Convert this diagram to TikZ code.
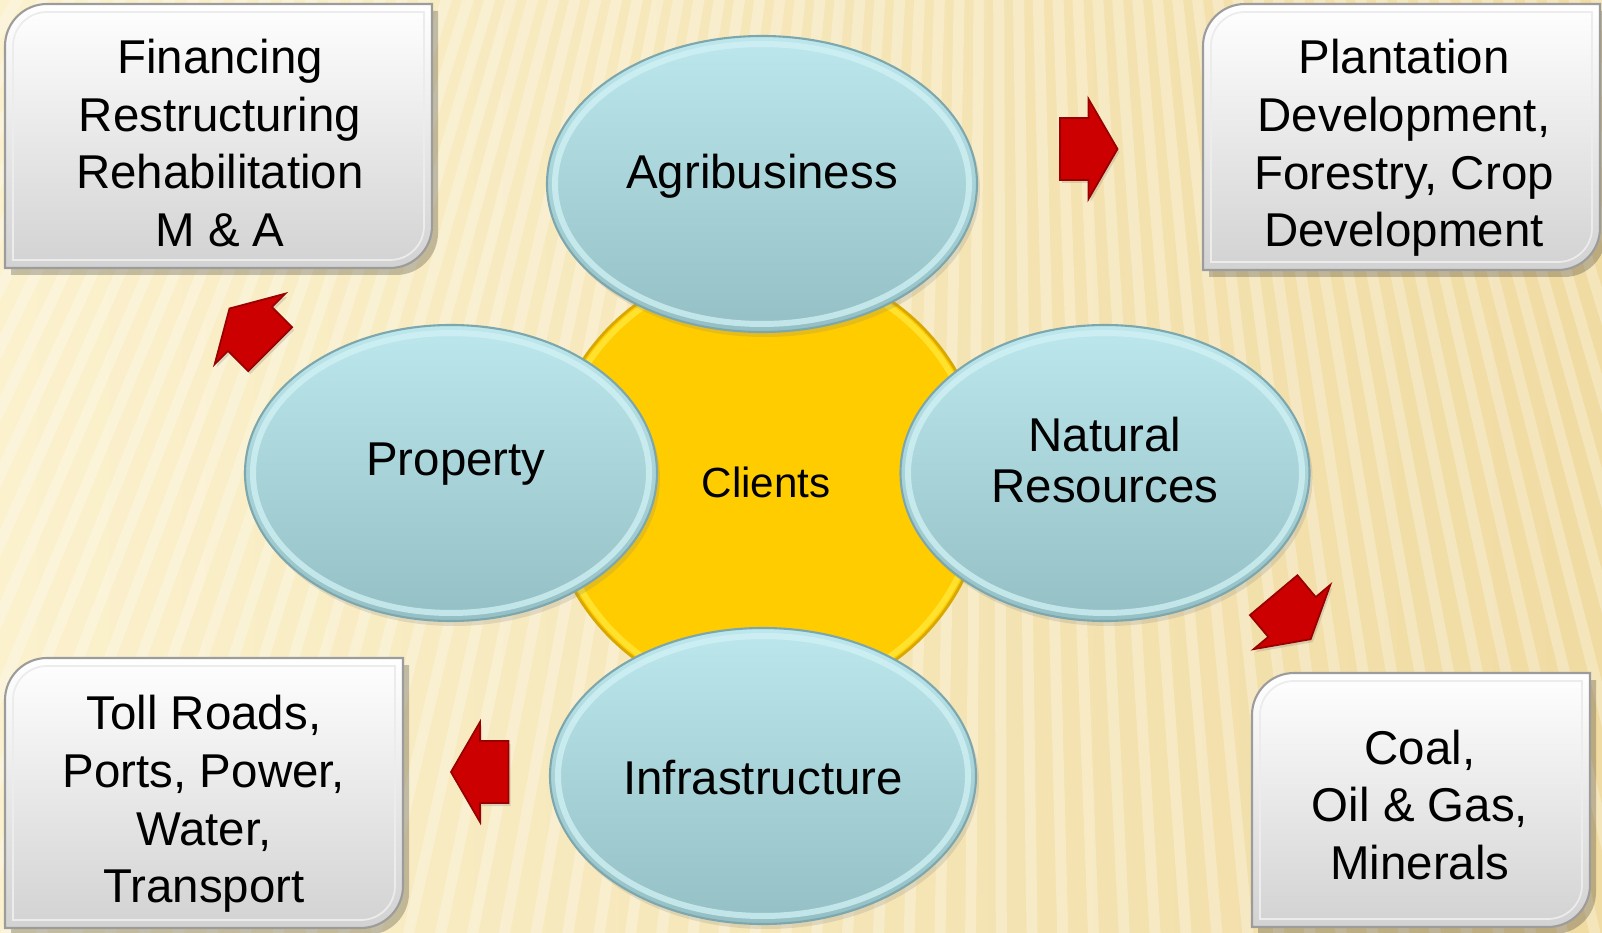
\documentclass[tikz,border=0pt]{standalone}
\usepackage{fontspec}
\setmainfont{Liberation Sans}
\usetikzlibrary{shapes.geometric, shadows}

\definecolor{bgleft}{HTML}{FBF1CD}
\definecolor{bgright}{HTML}{F0DBA2}
\definecolor{cardbot}{HTML}{D2D2D2}
\definecolor{cardedge}{HTML}{9C9C9C}
\definecolor{bubbletop}{HTML}{BCE7ED}
\definecolor{bubblebot}{HTML}{94C0C5}
\definecolor{bubbleedge}{HTML}{7DA7AC}
\definecolor{bubblerim}{HTML}{D2F2F5}
\definecolor{clientgold}{HTML}{FFCC00}
\definecolor{clientedge}{HTML}{D9A800}
\definecolor{clientrim}{HTML}{FFE12E}
\definecolor{arrowred}{HTML}{CC0000}
\definecolor{arrowdark}{HTML}{990000}

\tikzset{
  stripe/.style={white, line width=0.11cm, opacity=0.28},
  card/.style={top color=white, bottom color=cardbot, draw=cardedge, line width=0.6pt},
  cardshadow/.style={black, opacity=0.22},
  cardrim/.style={white!85!gray, line width=0.5pt},
  cardtext/.style={font=\fontsize{13.5}{16.4}\selectfont, align=center},
  bubble/.style={ellipse, draw=bubbleedge, line width=0.6pt, top color=bubbletop, bottom color=bubblebot,
    inner sep=0pt, minimum height=2.96cm,
    drop shadow={opacity=0.2, shadow xshift=0.03cm, shadow yshift=-0.05cm}},
  bubbletext/.style={align=center, font=\fontsize{13.5}{14.5}\selectfont},
  rim/.style={bubblerim, line width=0.06cm, opacity=0.75},
  redarrow/.style={fill=arrowred, draw=arrowdark, line width=0.5pt,
    drop shadow={opacity=0.25, shadow xshift=0.02cm, shadow yshift=-0.03cm}}
}

% card with two round corners: x1, y1 (top left), x2, y2 (bottom right)
\newcommand{\cardbox}[4]{%
  \fill[cardshadow, shift={(0.06,-0.07)}] (#1,#4) -- (#1,#2-0.42) arc (180:90:0.42) -- (#3,#2) -- (#3,#4+0.42) arc (0:-90:0.42) -- cycle;
  \shade[card] (#1,#4) -- (#1,#2-0.42) arc (180:90:0.42) -- (#3,#2) -- (#3,#4+0.42) arc (0:-90:0.42) -- cycle;
  \draw[cardrim] (#1+0.08,#4+0.08) -- (#1+0.08,#2-0.42) arc (180:90:0.34) -- (#3-0.08,#2-0.08) -- (#3-0.08,#4+0.42) arc (0:-90:0.34) -- cycle;
}

% block arrow: centre x, centre y, direction
\newcommand{\redarrow}[3]{%
  \filldraw[redarrow, shift={(#1,#2)}, rotate=#3] (-0.285,-0.31) -- (0,-0.31) -- (0,-0.5) -- (0.29,0) -- (0,0.5) -- (0,0.31) -- (-0.285,0.31) -- cycle;
}

\begin{document}
\begin{tikzpicture}

\useasboundingbox ( 0, 0 ) rectangle ( 16.02, -9.33 );

% Background, fanned stripes
\shade[left color=bgleft, right color=bgright] ( 0, 0 ) rectangle ( 16.02, -9.33 );
\begin{scope}
  \clip ( 0, 0 ) rectangle ( 16.02, -9.33 );
  \foreach \i in {0,...,80}
    \draw[stripe] ( 9.94, 16.93 ) -- ++( 238 + 0.67*\i : 32 );
\end{scope}

% Cards
\cardbox{0.05}{-0.04}{4.32}{-2.68}
\cardbox{12.03}{-0.04}{16.00}{-2.70}
\cardbox{0.05}{-6.58}{4.03}{-9.28}
\cardbox{12.52}{-6.73}{15.90}{-9.27}

\node (fin) at ( 2.20, -1.43 ) [cardtext] {Financing\\Restructuring\\Rehabilitation\\M \& A};
\node (plant) at ( 14.04, -1.48 ) [cardtext] {Plantation\\Development,\\Forestry, Crop\\Development};
\node (toll) at ( 2.04, -8.04 ) [cardtext] {Toll Roads,\\Ports, Power,\\Water,\\Transport};
\node (coal) at ( 14.20, -8.05 ) [cardtext] {Coal,\\Oil \& Gas,\\Minerals};

% Clients
\node (clients) at ( 7.66, -4.82 ) [circle, fill=clientgold, draw=clientedge, line width=0.8pt,
  minimum size=4.4cm, font=\fontsize{12}{14}\selectfont] {Clients};
\draw[clientrim, line width=0.06cm] (clients.center) circle ( 2.14 );

% Sectors
\node (agri) at ( 7.62, -1.84 ) [bubble, minimum width=4.30cm] {};
\node (prop) at ( 4.51, -4.73 ) [bubble, minimum width=4.12cm] {};
\node (natres) at ( 11.05, -4.73 ) [bubble, minimum width=4.09cm] {};
\node (infra) at ( 7.63, -7.76 ) [bubble, minimum width=4.26cm] {};

\draw[rim] (agri.center) ellipse ( 2.07 and 1.40 );
\draw[rim] (prop.center) ellipse ( 1.98 and 1.40 );
\draw[rim] (natres.center) ellipse ( 1.97 and 1.40 );
\draw[rim] (infra.center) ellipse ( 2.05 and 1.40 );

\node (agritext) at ([yshift=0.08cm]agri.center) [bubbletext] {Agribusiness};
\node (proptext) at ([xshift=0.05cm, yshift=0.09cm]prop.center) [bubbletext] {Property};
\node (natrestext) at ([yshift=0.13cm]natres.center) [bubbletext] {Natural\\Resources};
\node (infratext) at ([yshift=-0.02cm]infra.center) [bubbletext] {Infrastructure};

% Arrows
\redarrow{10.885}{-1.49}{0}
\redarrow{2.50}{-3.29}{135}
\redarrow{12.92}{-6.17}{-50}
\redarrow{4.80}{-7.72}{180}

\end{tikzpicture}
\end{document}
